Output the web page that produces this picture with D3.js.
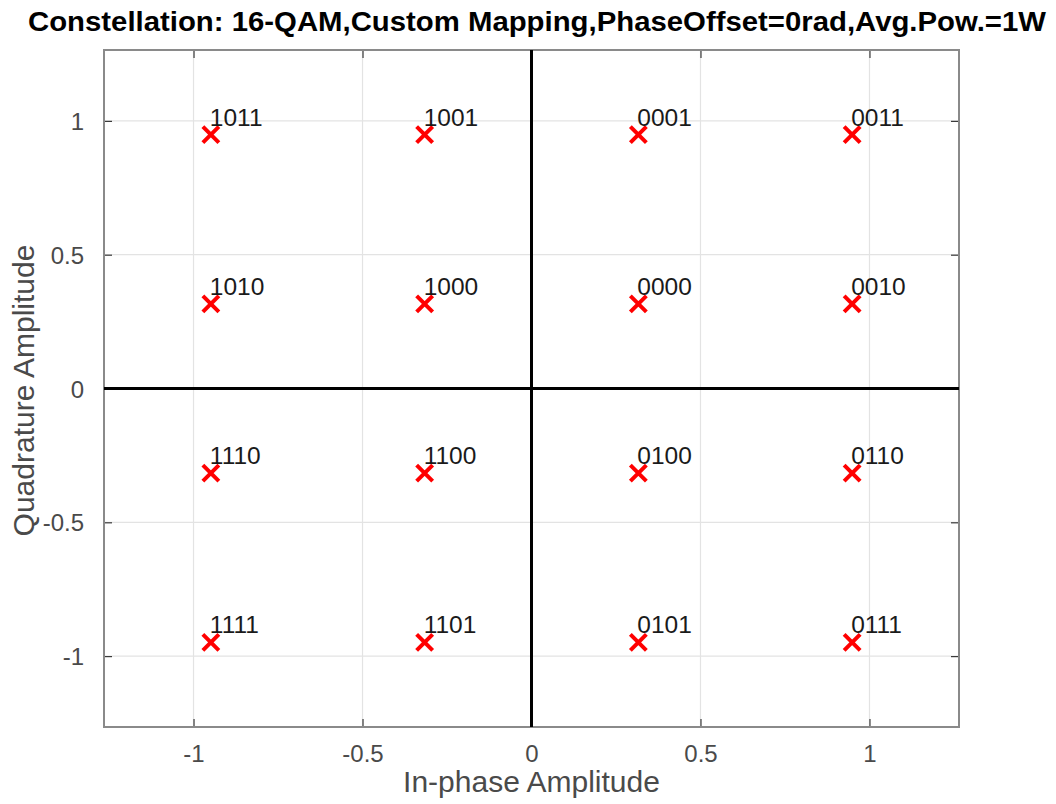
<!DOCTYPE html>
<html><head><meta charset="utf-8">
<script src="https://cdn.jsdelivr.net/npm/d3@7"></script>
<style>body{margin:0;background:#fff}svg{display:block}text{font-family:"Liberation Sans",Arial,sans-serif}</style>
</head><body>
<svg id="c" width="1056" height="804"></svg>
<script>
// Data
const inPhase    = [-0.9487,-0.3162, 0.3162, 0.9487,
                    -0.9487,-0.3162, 0.3162, 0.9487,
                    -0.9487,-0.3162, 0.3162, 0.9487,
                    -0.9487,-0.3162, 0.3162, 0.9487];
const quadrature = [ 0.9487, 0.9487, 0.9487, 0.9487,
                     0.3162, 0.3162, 0.3162, 0.3162,
                    -0.3162,-0.3162,-0.3162,-0.3162,
                    -0.9487,-0.9487,-0.9487,-0.9487];
const symbolLabels = ["1011","1001","0001","0011",
                      "1010","1000","0000","0010",
                      "1110","1100","0100","0110",
                      "1111","1101","0101","0111"];
const xTicks = [-1,-0.5,0,0.5,1];
const yTicks = [-1,-0.5,0,0.5,1];
const axisLimits = [-1.2649, 1.2649];
const titleText = "Constellation: 16-QAM,Custom Mapping,PhaseOffset=0rad,Avg.Pow.=1W";

const svg = d3.select("#c");
const L=104, R=959, T=50, B=727;
const x = d3.scaleLinear().domain(axisLimits).range([L,R]);
const y = d3.scaleLinear().domain(axisLimits).range([B,T]);

// grid
const g = svg.append("g");
g.selectAll(".gx").data(xTicks.filter(d=>d!==0)).enter().append("line")
  .attr("x1",d=>x(d)).attr("x2",d=>x(d)).attr("y1",T).attr("y2",B)
  .attr("stroke","#e3e3e3").attr("stroke-width",1.2);
g.selectAll(".gy").data(yTicks.filter(d=>d!==0)).enter().append("line")
  .attr("y1",d=>y(d)).attr("y2",d=>y(d)).attr("x1",L).attr("x2",R)
  .attr("stroke","#e3e3e3").attr("stroke-width",1.2);

// axes with inward ticks
const tickFmt = d => d===0 ? "0" : d3.format("")(d).replace("\u2212","-");
const axB = d3.axisBottom(x).tickValues(xTicks).tickSizeInner(-8).tickSizeOuter(0).tickPadding(18).tickFormat(tickFmt);
const axT = d3.axisTop(x).tickValues(xTicks).tickSizeInner(-8).tickSizeOuter(0).tickFormat("");
const axL = d3.axisLeft(y).tickValues(yTicks).tickSizeInner(-8).tickSizeOuter(0).tickPadding(20).tickFormat(tickFmt);
const axR = d3.axisRight(y).tickValues(yTicks).tickSizeInner(-8).tickSizeOuter(0).tickFormat("");
function style(sel){
  sel.select(".domain").remove();
  sel.selectAll(".tick line").attr("stroke","#3a3a3a").attr("stroke-width",1.2);
  sel.selectAll(".tick text").attr("fill","#4a4a4a").style("font-size","24px").style("font-family","'Liberation Sans',Arial,sans-serif");
}
svg.append("g").attr("transform",`translate(0,${B})`).call(axB).call(style);
svg.append("g").attr("transform",`translate(0,${T})`).call(axT).call(style);
svg.append("g").attr("transform",`translate(${L},0)`).call(axL).call(style)
  .selectAll(".tick text").attr("dy","0.36em");
svg.append("g").attr("transform",`translate(${R},0)`).call(axR).call(style);

// box
svg.append("rect").attr("x",L).attr("y",T).attr("width",R-L).attr("height",B-T)
  .attr("fill","none").attr("stroke","#8a8a8a").attr("stroke-width",2);

// zero lines
svg.append("line").attr("x1",L).attr("x2",R).attr("y1",y(0)).attr("y2",y(0)).attr("stroke","#000").attr("stroke-width",3);
svg.append("line").attr("x1",x(0)).attr("x2",x(0)).attr("y1",T).attr("y2",B).attr("stroke","#000").attr("stroke-width",3);

// points
const pts = inPhase.map((v,i)=>({i:v,q:quadrature[i],s:symbolLabels[i]}));
const m = 8;
const pg = svg.append("g");
pts.forEach(p=>{
  const cx=x(p.i), cy=y(p.q);
  pg.append("path").attr("d",`M${cx-m},${cy-m}L${cx+m},${cy+m}M${cx-m},${cy+m}L${cx+m},${cy-m}`)
    .attr("stroke","#ff0000").attr("stroke-width",4);
  pg.append("text").attr("x",cx-1).attr("y",cy-9).text(p.s)
    .attr("fill","#1a1a1a").style("font-size","24.5px");
});

// labels
svg.append("text").attr("x",(L+R)/2).attr("y",792).attr("text-anchor","middle")
  .attr("fill","#4a4a4a").style("font-size","30px").text("In-phase Amplitude");
svg.append("text").attr("transform",`translate(34,${(T+B)/2+2}) rotate(-90)`).attr("text-anchor","middle")
  .attr("fill","#4a4a4a").style("font-size","30px").text("Quadrature Amplitude");
svg.append("text").attr("x",537).attr("y",31).attr("text-anchor","middle")
  .attr("fill","#000").style("font-size","27px").style("font-weight","bold")
  .attr("textLength",1018).attr("lengthAdjust","spacingAndGlyphs").text(titleText);
</script>
</body></html>
